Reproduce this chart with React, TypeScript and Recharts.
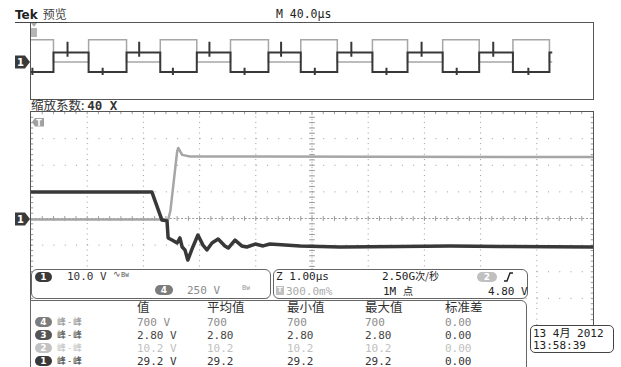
import React from 'react';
import { LineChart, Line, XAxis, YAxis, ReferenceLine } from 'recharts';

// zoom window: time in µs around the trigger (1.00 µs/div), level in divisions
const ch1Time = [-5, -2.85, -2.67, -2.58, -2.56, -2.49, -2.4, -2.35, -2.31, -2.26, -2.21, -2.12, -2.03, -1.94, -1.87, -1.78, -1.67, -1.55, -1.49, -1.37, -1.25, -1.16, -1.01, -0.87, -0.75, -0.21, 0.5, 1.57, 2.46, 3.35, 5];
const ch1Div = [1.0, 1.0, -0.06, -0.09, -0.73, -0.81, -0.92, -0.73, -1.07, -1.18, -1.56, -1.07, -0.62, -1.0, -1.18, -0.92, -0.77, -1.03, -1.11, -0.81, -1.03, -1.07, -0.96, -1.03, -0.96, -1.03, -1.07, -1.05, -1.03, -1.05, -1.07];
const ch4Time = [-5, -2.56, -2.52, -2.4, -2.38, -2.31, -2.17, 5];
const ch4Div = [-0.04, -0.04, 0.28, 2.51, 2.65, 2.39, 2.33, 2.31];

// overview record (40.0 µs/div), edges
const ovEdgesUs = [16, 41, 68, 92, 118, 142, 169, 192, 218, 243, 268, 293, 319, 343, 369];
const ovEndUs = 371;
const ovCh1High = 1.0;
const ovCh1Low = -1.05;
const ovCh4High = 2.31;
const ovCh4Low = 0;
const ovSpikeOnHighUs = [26, 77, 127, 178, 228, 278, 329];
const ovSpikeOnLowUs = [1, 51, 101, 152, 202, 253, 303, 354];

// measurement readout
const measHeaders = ['值', '平均值', '最小值', '最大值', '标准差'];
const measChannels = ['4', '3', '2', '1'];
const measValue = ['700 V', '2.80 V', '10.2 V', '29.2 V'];
const measMean = ['700', '2.80', '10.2', '29.2'];
const measMin = ['700', '2.80', '10.2', '29.2'];
const measMax = ['700', '2.80', '10.2', '29.2'];
const measStd = ['0.00', '0.00', '0.00', '0.00'];

const ch1Data = ch1Time.map((t, i) => ({ t, v: ch1Div[i] }));
const ch4Data = ch4Time.map((t, i) => ({ t, v: ch4Div[i] }));

type Spike = { t: number; level: number; top: number; bottom: number };

function stepTrace(first: number, second: number, spikes: Spike[]) {
  const pts = [{ t: 0, v: first }];
  let cur = first;
  ovEdgesUs.forEach((e) => {
    pts.push({ t: e, v: cur });
    cur = cur === first ? second : first;
    pts.push({ t: e, v: cur });
  });
  pts.push({ t: ovEndUs, v: cur });
  spikes.forEach((s) => {
    pts.push({ t: s.t, v: s.level }, { t: s.t, v: s.top }, { t: s.t, v: s.bottom }, { t: s.t, v: s.level });
  });
  return pts.sort((a, b) => a.t - b.t);
}

const ovCh1 = stepTrace(ovCh1Low, ovCh1High, [
  ...ovSpikeOnHighUs.map((t) => ({ t, level: ovCh1High, top: 2.1, bottom: 0.55 })),
  ...ovSpikeOnLowUs.map((t) => ({ t, level: ovCh1Low, top: -0.6, bottom: -1.35 })),
]);
const ovCh4 = stepTrace(ovCh4High, ovCh4Low, []);

const majorX = [-4, -3, -2, -1, 1, 2, 3, 4];
const majorY = [-3, -2, -1, 1, 2, 3];
const minorX: number[] = [];
for (let i = -24; i <= 24; i++) minorX.push(i / 5);
const minorY: number[] = [];
for (let i = -19; i <= 19; i++) minorY.push(i / 5);

const GRID = '#9a9a9a';
const DARK = '#383838';
const LIGHT = '#a6a6a6';
const MONO = '"DejaVu Sans Mono", "Noto Sans CJK SC", monospace';
const CJK = '"Noto Sans CJK SC", "DejaVu Sans", sans-serif';

const abs = (left: number, top: number, extra: React.CSSProperties = {}): React.CSSProperties => ({
  position: 'absolute',
  left,
  top,
  whiteSpace: 'nowrap',
  lineHeight: 1,
  ...extra,
});

function Pill({ x, y, w, bg, label }: { x: number; y: number; w: number; bg: string; label: string }) {
  return (
    <div
      style={abs(x, y, {
        width: w,
        height: 10,
        borderRadius: 5,
        background: bg,
        color: '#fff',
        fontSize: 9,
        fontWeight: 'bold',
        fontFamily: '"DejaVu Sans", sans-serif',
        textAlign: 'center',
        lineHeight: '10px',
      })}
    >
      {label}
    </div>
  );
}

function GroundMarker({ y }: { y: number }) {
  return (
    <svg style={abs(14, y - 7)} width={17} height={14}>
      <polygon points="1,0.5 11,0.5 16,7 11,13.5 1,13.5" fill="#3a3a3a" />
      <text x={6.5} y={11} fontSize={10} fontWeight="bold" fill="#fff" textAnchor="middle" fontFamily="DejaVu Sans">1</text>
    </svg>
  );
}

const pillColors = ['#7c7c7c', '#555555', '#c2c2c2', '#3a3a3a'];
const rowColors = ['#8a8a8a', '#444444', '#c0c0c0', '#333333'];
const colX = [137, 207, 287, 365, 445];
const rowTop = [316.5, 329.5, 342.5, 355.5];

export default function App() {
  return (
    <div style={{ position: 'fixed', left: 0, top: 0, width: 621, height: 367, background: '#fff', overflow: 'hidden', color: '#333' }}>
      {/* overview strip */}
      <div style={abs(30, 22, { width: 562, height: 76, border: '1px solid #555' })} />
      <div style={abs(0, 0)}>
        <LineChart width={621} height={367} margin={{ top: 22, right: 28, bottom: 268, left: 31 }}>
          <XAxis type="number" dataKey="t" domain={[0, 400]} hide allowDataOverflow />
          <YAxis type="number" domain={[-3.85, 4.17]} hide allowDataOverflow />
          <Line data={ovCh4} dataKey="v" type="linear" dot={false} stroke={LIGHT} strokeWidth={1.5} isAnimationActive={false} />
          <Line data={ovCh1} dataKey="v" type="linear" dot={false} stroke={DARK} strokeWidth={2} isAnimationActive={false} />
        </LineChart>
      </div>

      {/* zoomed graticule */}
      <div style={abs(30, 111, { width: 562, height: 220, borderLeft: '1px solid #555', borderTop: '1px solid #555', borderRight: '1px solid #555' })} />
      <div style={abs(0, 0)}>
        <LineChart width={621} height={367} margin={{ top: 112, right: 28, bottom: 42, left: 31 }}>
          <XAxis type="number" dataKey="t" domain={[-5, 5]} hide allowDataOverflow />
          <YAxis type="number" domain={[-4, 4]} hide allowDataOverflow />
          {majorX.map((x) => (
            <ReferenceLine key={`vx${x}`} x={x} stroke={GRID} strokeDasharray="1 4.32" />
          ))}
          {majorY.map((y) => (
            <ReferenceLine key={`hy${y}`} y={y} stroke={GRID} strokeDasharray="1 10.24" />
          ))}
          <ReferenceLine x={0} stroke={GRID} strokeDasharray="1 1.66" />
          <ReferenceLine y={0} stroke={GRID} strokeDasharray="2 1.75" />
          {minorX.map((x) => (
            <ReferenceLine key={`cx${x}`} segment={[{ x, y: -0.09 }, { x, y: 0.09 }]} stroke={GRID} />
          ))}
          {minorY.map((y) => (
            <ReferenceLine key={`cy${y}`} segment={[{ x: -0.05, y }, { x: 0.05, y }]} stroke={GRID} />
          ))}
          {minorY.map((y) => (
            <ReferenceLine key={`ly${y}`} segment={[{ x: -5, y }, { x: -4.96, y }]} stroke={GRID} />
          ))}
          {minorY.map((y) => (
            <ReferenceLine key={`ry${y}`} segment={[{ x: 4.96, y }, { x: 5, y }]} stroke={GRID} />
          ))}
          {minorX.map((x) => (
            <ReferenceLine key={`tx${x}`} segment={[{ x, y: 4 }, { x, y: 3.92 }]} stroke={GRID} />
          ))}
          <Line data={ch4Data} dataKey="v" type="linear" dot={false} stroke={LIGHT} strokeWidth={2.5} strokeLinejoin="round" isAnimationActive={false} />
          <Line data={ch1Data} dataKey="v" type="linear" dot={false} stroke={DARK} strokeWidth={3.5} strokeLinejoin="round" isAnimationActive={false} />
        </LineChart>
      </div>

      {/* header */}
      <div style={abs(15, 8, { fontSize: 12, borderBottom: '1px solid #444', paddingBottom: 1, width: 52 })}>
        <span style={{ fontFamily: '"DejaVu Sans", sans-serif', fontWeight: 'bold', color: '#222' }}>Tek</span>
        <span style={{ fontFamily: CJK, marginLeft: 5, color: '#444' }}>预览</span>
      </div>
      <div style={abs(276, 9, { fontFamily: MONO, fontSize: 11.5, color: '#222' })}>M 40.0µs</div>
      <div style={abs(31, 99, { fontFamily: CJK, fontSize: 12.5, color: '#333' })}>
        缩放系数: <span style={{ fontFamily: MONO, fontWeight: 'bold' }}>40 X</span>
      </div>

      {/* markers */}
      <svg style={abs(30, 22)} width={9} height={16}>
        <polygon points="1,1 7,1 4,5" fill="#aaa" />
        <rect x={1} y={6} width={6} height={9} fill="#b5b5b5" />
      </svg>
      <GroundMarker y={62} />
      <svg style={abs(31, 117)} width={14} height={11}>
        <polygon points="1,5 4,1 13,1 13,9.5 4,9.5" fill="#a0a0a0" />
        <text x={8} y={8.5} fontSize={8} fontWeight="bold" fill="#fff" textAnchor="middle" fontFamily="DejaVu Sans">T</text>
      </svg>
      <GroundMarker y={218.5} />

      {/* channel box */}
      <div style={abs(31, 269, { width: 238, height: 28, border: '1px solid #666', borderRadius: 6, background: '#fff' })} />
      <Pill x={35} y={272} w={17} bg="#3a3a3a" label="1" />
      <div style={abs(67, 271, { fontFamily: MONO, fontSize: 11, color: '#333' })}>10.0 V</div>
      <div style={abs(113, 270, { fontFamily: MONO, fontSize: 9, color: '#555' })}>
        ∿<span style={{ fontSize: 7 }}>B</span><span style={{ fontSize: 6 }}>W</span>
      </div>
      <Pill x={155} y={285} w={18} bg="#7c7c7c" label="4" />
      <div style={abs(187, 284.5, { fontFamily: MONO, fontSize: 11, color: '#8a8a8a' })}>250 V</div>
      <div style={abs(242, 285, { fontFamily: MONO, fontSize: 7, color: '#999' })}>
        B<span style={{ fontSize: 6 }}>W</span>
      </div>

      {/* timebase box */}
      <div style={abs(273, 269, { width: 253, height: 28, border: '1px solid #666', borderRadius: 6, background: '#fff' })} />
      <div style={abs(276, 271, { fontFamily: MONO, fontSize: 11, color: '#222' })}>Z 1.00µs</div>
      <div style={abs(382, 271, { fontFamily: MONO, fontSize: 11, color: '#222' })}>
        2.50G<span style={{ fontFamily: CJK, fontSize: 10 }}>次/秒</span>
      </div>
      <Pill x={477} y={272} w={20} bg="#c0c0c0" label="2" />
      <svg style={abs(503, 271)} width={12} height={12}>
        <polyline points="1,10 4,10 7,2 10,2" fill="none" stroke="#222" strokeWidth={1.4} />
      </svg>
      <div style={abs(276, 286, { width: 8, height: 9, background: '#c0c0c0', color: '#fff', fontSize: 7, fontWeight: 'bold', textAlign: 'center', lineHeight: '9px', fontFamily: 'DejaVu Sans' })}>T</div>
      <div style={abs(286, 285.5, { fontFamily: MONO, fontSize: 11, color: '#aaa' })}>300.0m%</div>
      <div style={abs(383, 285.5, { fontFamily: MONO, fontSize: 11, color: '#222' })}>
        1M <span style={{ fontFamily: CJK, fontSize: 10 }}>点</span>
      </div>
      <div style={abs(488, 285.5, { fontFamily: MONO, fontSize: 11, color: '#222' })}>4.80 V</div>

      {/* measurement box */}
      <div style={abs(30, 300, { width: 495, height: 80, border: '1px solid #666', borderTopRightRadius: 6, background: '#fff' })} />
      {measHeaders.map((h, i) => (
        <div key={h} style={abs(colX[i], 300.5, { fontFamily: CJK, fontSize: 12.5, lineHeight: '12px', color: '#333' })}>{h}</div>
      ))}
      {measChannels.map((ch, r) => (
        <React.Fragment key={ch}>
          <Pill x={35} y={rowTop[r] + 0.5} w={17} bg={pillColors[r]} label={ch} />
          <div style={abs(57, rowTop[r] + 0.5, { fontFamily: CJK, fontSize: 9, lineHeight: '9px', letterSpacing: 2, color: rowColors[r] })}>峰-峰</div>
          {[measValue, measMean, measMin, measMax, measStd].map((col, c) => (
            <div key={c} style={abs(colX[c], rowTop[r], { fontFamily: MONO, fontSize: 11, color: rowColors[r] })}>{col[r]}</div>
          ))}
        </React.Fragment>
      ))}

      {/* date box */}
      <div style={abs(530, 325, { width: 82, height: 26, border: '1px solid #444', borderRadius: 5, background: '#fff' })} />
      <div style={abs(533, 327, { fontFamily: MONO, fontSize: 11, color: '#222' })}>
        13 4<span style={{ fontFamily: CJK }}>月</span>  2012
      </div>
      <div style={abs(533, 340, { fontFamily: MONO, fontSize: 11, color: '#222' })}>13:58:39</div>
    </div>
  );
}
